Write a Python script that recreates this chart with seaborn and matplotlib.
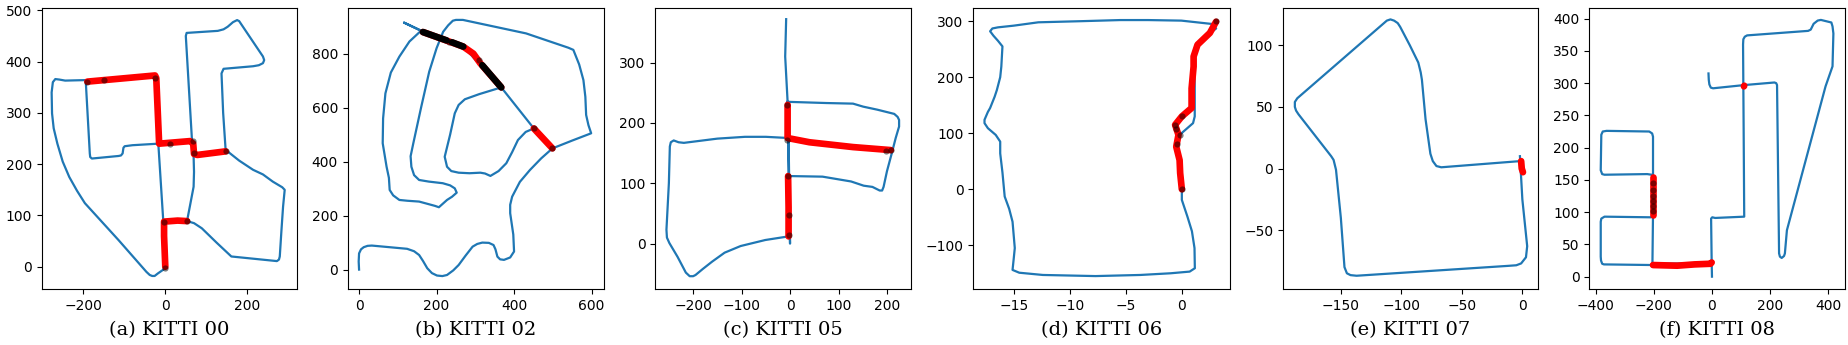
import matplotlib

matplotlib.use("Agg")
import matplotlib.pyplot as plt
import seaborn as sns

titles = ["(a) KITTI 00", "(b) KITTI 02", "(c) KITTI 05", "(d) KITTI 06", "(e) KITTI 07", "(f) KITTI 08"]

# KITTI 00
a_x = [0, -5, -17, -80, -99, -102, -104, -108, -114, -179, -183, -184, -194, -244, -258, -268, -274, -277, -276, -272, -263, -250, -234, -215, -196, -114, -46, -38, -32, -26, -18, 0, 0,
       -5, 53, 70, 89, 125, 161, 272, 277, 279, 283, 287, 291, 285, 262, 238, 214, 180, 147, 141, 137, 142, 214, 228, 238, 241, 238, 180, 175, 165, 152, 142, 128, 52, 50, 65, 69, 70, 69, 53]
a_y = [0, 90, 240, 237, 235, 232, 221, 217, 216, 211, 214, 221, 364, 363, 365, 366, 360, 340, 299, 270, 240, 205, 175, 148, 124, 52, -10, -16, -18, -18, -13, -3, 0,
       90, 89, 85, 75, 47, 20, 11, 14, 20, 70, 117, 150, 155, 166, 180, 189, 207, 228, 300, 377, 386, 391, 393, 397, 403, 410, 479, 481, 477, 468, 463, 460, 456, 450, 247, 215, 185, 156, 89]
a_red_x = [[-190, -25, -22, -15, 60, 68, 70, 78, 147], [0, -3, -3, 30, 53]]
a_red_y = [[361, 373, 368, 240, 245, 240, 220, 218, 225], [0, 60, 88, 90, 89]]
a_dot_x = [-190, -150, -24, 12, 67, 70, 147, -3, 53, 0]
a_dot_y = [361, 364, 368, 240, 245, 222, 225, 88, 89, -2]

# KITTI 02
b_x = [0, -1, 0, 5, 12, 22, 33, 124, 142, 155, 165, 176, 188, 201, 215, 227, 243, 257, 275, 293, 305, 318, 335, 347, 352, 357, 364, 374, 390, 400, 398, 390, 390, 395, 415, 441, 470, 499,
       550, 599, 592, 586, 584, 579, 568, 553, 540, 431, 268, 250, 242, 230, 217, 200, 181, 160, 140, 133, 135, 142, 155, 180, 216, 235, 247, 252, 240, 227, 206, 196, 155, 125, 104, 88, 79, 77, 71, 61, 62, 68, 82, 104, 130, 160, 116, 160,
       269, 367, 451, 499, 451, 430, 410, 395, 380, 360, 339, 325, 313, 285, 257, 238, 227, 221, 235, 247, 257, 273, 310, 367]
b_y = [0, 30, 60, 75, 83, 88, 89, 77, 68, 54, 32, 5, -13, -22, -24, -20, -3, 17, 52, 85, 95, 100, 99, 91, 75, 48, 38, 36, 45, 67, 130, 209, 240, 270, 325, 369, 412, 449,
       478, 505, 535, 573, 640, 702, 760, 814, 822, 875, 925, 925, 922, 905, 881, 820, 733, 600, 468, 420, 381, 350, 332, 326, 320, 312, 301, 285, 270, 258, 231, 236, 252, 255, 258, 275, 295, 340, 381, 468, 560, 653, 730, 789, 845, 885, 915, 885,
       826, 675, 523, 449, 523, 510, 480, 435, 394, 365, 347, 356, 359, 357, 359, 365, 381, 418, 500, 579, 610, 631, 650, 675]
b_red_x = [[165, 269, 295, 313, 367], [451, 499]]
b_red_y = [[880, 826, 800, 764, 675], [523, 449]]
b_black_x = [[165, 226], [240, 269], [318, 367]]
b_black_y = [[880, 849], [842, 826], [757, 675]]
b_dot_x = [451, 499, 310, 232]
b_dot_y = [523, 449, 775, 845]

# KITTI 05
c_x = [-8, -10, -5, -3, 0, -3, -50, -93, -150, -219, -230, -240, -246, -248, -250, -255, -254, -249, -232, -215, -207, -200, -195, -180, -161, -135, -102, -51, -3,
       -3, -3, 67, 126, 152, 170, 185, 190, 193, 200, 210, 218, 225, 225, 222, 215, 205, 180, 151, 130, 75, -5]
c_y = [372, 310, 235, 112, 0, 175, 177, 177, 174, 167, 168, 171, 168, 161, 100, 23, 10, 1, -22, -48, -54, -54, -52, -42, -30, -15, -4, 6, 12,
       60, 112, 111, 103, 96, 94, 88, 88, 94, 120, 150, 175, 194, 205, 210, 215, 217, 222, 227, 232, 233, 235]
c_red_x = [[-3, -3, -4], [-5, -5, 40, 130, 208]]
c_red_y = [[12, 60, 112], [230, 175, 168, 160, 155]]
c_dot_x = [-6, -6, 198, 208, -2, -4, -3]
c_dot_y = [230, 172, 154, 155, 48, 112, 14]

# KITTI 06
d_x = [0, 0, 0.5, 0.9, 1.13, 1.16, 0.7, -1, -3.7, -7.7, -12.4, -14.5, -15.1, -15, -14.9, -15.1, -15.4, -15.8, -16, -16.2, -16.2, -16.6, -17.3, -17.6, -17.6, -17.3, -17.1, -16.7, -16.5, -16.2, -16.1, -16,
       -16.4, -16.8, -17.1, -16.9, -16.4, -15, -12.8, -9, -5.5, -3, -0.04, 2.7, 3.06, 1.4, 1.1, 1.15, 1.15, 1, -0.2, -0.5, -0.2, 0]
d_y = [0, -19, -49, -75, -105, -141, -147, -150, -153, -155, -153, -149, -144, -125, -105, -58, -35, -13, 30, 64, 85, 97, 109, 118, 124, 138, 145, 165, 177, 200, 219, 255,
       265, 274, 282, 287, 289, 292, 298, 300, 302, 302, 301, 295, 287, 261, 237, 183, 130, 118, 97, 76, 52, 0]
d_red_x = [[0, -0.15, -0.2, -0.5, -0.3, -0.6, 0, 0.87, 0.87, 1.05, 1.05, 1.4, 2.5, 3.05]]
d_red_y = [[0, 29, 52, 76, 97, 115, 130, 145, 180, 219, 237, 258, 279, 299]]
d_dot_x = [3.05, -0.6, -0.5, -0.2, 0, 0, -0.4]
d_dot_y = [300, 115, 108, 97, 130, 0, 80]

# KITTI 07
e_x = [-2, 0, 4, 3, -1, -5, -12, -137, -142, -145, -147, -150, -154, -156, -158, -185, -187, -188, -188, -186, -112, -109, -106, -103, -101, -93, -86, -84, -83, -80, -76, -74, -71, -67, -2]
e_y = [10, -25, -63, -72, -77, -78.5, -79, -87, -86.5, -85, -80, -40, -1, 7, 10, 44, 47, 50, 54, 57, 120, 121, 120, 118, 115, 100, 86, 78, 72, 40, 12, 6, 2, 1, 6]
e_red_x = [[-1, -0.5, 0.5]]
e_red_y = [[6, 0, -3]]
e_dot_x = []
e_dot_y = []

# KITTI 08
f_x = [0, -1, -203, -372, -378, -382, -383, -383, -381, -370, -210, -204, -203, -203, -208, -223, -370, -378, -383, -381, -376, -363, -216, -206, -203, -203, -205, -1, -3, 1, 11, 111, 109, 107, 108, 113, 121,
       331, 340, 350, 364, 375, 411, 415, 418, 415, 391, 258, 251, 248, 240, 234, 231, 224, 221, 215, 111, 4, -4, -9, -11, -12]
f_y = [0, 21, 18, 19, 20, 25, 31, 85, 90, 93, 92, 95, 98, 155, 158, 159, 158, 159, 165, 220, 225, 226, 225, 222, 217, 98, 20, 21, 90, 92, 91, 93, 230, 360, 368, 372, 374,
       381, 383, 392, 397, 398, 394, 388, 377, 326, 295, 72, 36, 32, 29, 31, 36, 297, 300, 301, 297, 292, 293, 298, 305, 315]
f_red_x = [[-203, -203], [-203, -120, -60, -5, -1], [110, 111]]
f_red_y = [[155, 95], [18, 17, 19, 20, 22], [295, 296]]
f_dot_x = [-203, -203, -203, -203, -203, -203]
f_dot_y = [135, 125, 118, 110, 102, 145]

paths_x = [a_x, b_x, c_x, d_x, e_x, f_x]
paths_y = [a_y, b_y, c_y, d_y, e_y, f_y]
reds_x = [a_red_x, b_red_x, c_red_x, d_red_x, e_red_x, f_red_x]
reds_y = [a_red_y, b_red_y, c_red_y, d_red_y, e_red_y, f_red_y]
blacks_x = [[], b_black_x, [], [], [], []]
blacks_y = [[], b_black_y, [], [], [], []]
dots_x = [a_dot_x, b_dot_x, c_dot_x, d_dot_x, e_dot_x, f_dot_x]
dots_y = [a_dot_y, b_dot_y, c_dot_y, d_dot_y, e_dot_y, f_dot_y]

W, H = 1848, 345
lefts = [41.5, 347.6, 655.3, 973.3, 1283, 1589.4]
rights = [296.6, 603.8, 911.2, 1229.6, 1538.2, 1845.3]
xlims = [(-301.7, 320), (-29.6, 631.6), (-278, 250), (-18.6, 4.26), (-197.8, 13.1), (-422, 459)]
ylims = [(-44, 504), (-73, 968), (-75.7, 390), (-178.6, 323), (-98, 130), (-19.6, 416)]

fig = plt.figure(figsize=(W / 100, H / 100), dpi=100)

for i in range(6):
    ax = fig.add_axes([lefts[i] / W, 1 - 289.3 / H, (rights[i] - lefts[i]) / W, (289.3 - 8.3) / H])
    sns.lineplot(x=paths_x[i], y=paths_y[i], sort=False, estimator=None, color="#1f77b4", linewidth=1.6, ax=ax)
    for sx, sy in zip(reds_x[i], reds_y[i]):
        sns.lineplot(x=sx, y=sy, sort=False, estimator=None, color="red", linewidth=4.8,
                     solid_capstyle="round", ax=ax)
    for sx, sy in zip(blacks_x[i], blacks_y[i]):
        sns.lineplot(x=sx, y=sy, sort=False, estimator=None, color="black", linewidth=4.8,
                     solid_capstyle="round", ax=ax)
    if dots_x[i]:
        sns.scatterplot(x=dots_x[i], y=dots_y[i], color="black", alpha=0.5, s=20, linewidth=0, ax=ax, zorder=5)
    ax.set_xlim(xlims[i])
    ax.set_ylim(ylims[i])
    fig.text((lefts[i] + rights[i]) / 2 / W, 1 - 330 / H, titles[i], family="DejaVu Serif", fontsize=14,
             ha="center", va="center")

plt.savefig("out.png", dpi=100)
